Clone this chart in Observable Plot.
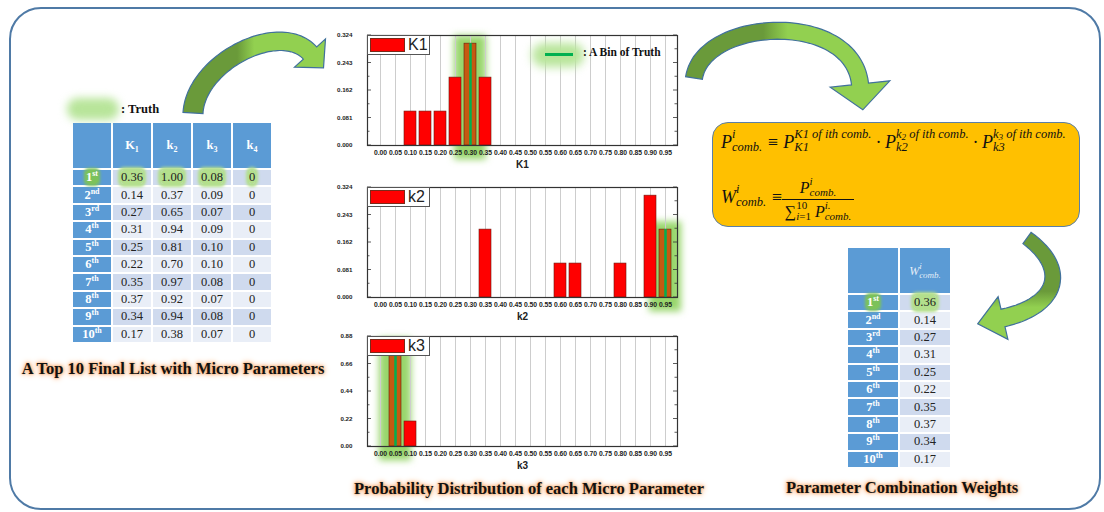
<!DOCTYPE html>
<html><head><meta charset="utf-8">
<script src="https://cdn.jsdelivr.net/npm/d3@7"></script>
<script src="https://cdn.jsdelivr.net/npm/@observablehq/plot@0.6"></script>
<style>
body{margin:0;width:1104px;height:512px;position:relative;overflow:hidden;background:#fff;font-family:"Liberation Serif",serif;}
#frame{position:absolute;left:9px;top:7px;width:1088px;height:499px;border:2.5px solid #4f7aa6;border-radius:32px;}
.abs{position:absolute}
table.t{position:absolute;border-collapse:separate;border-spacing:2px;table-layout:fixed;font-family:"Liberation Serif",serif;font-size:12.5px;color:#222;}
table.t td,table.t th{padding:0;text-align:center;height:15.4px;line-height:15px;overflow:visible;white-space:nowrap}
table.t th{height:45px;background:#5b9bd5;color:#fff;font-weight:bold;font-size:12.5px}
table.t td.rk{background:#5b9bd5;color:#fff;font-weight:bold}
table.t tr.odd td.v{background:#cfdaee}
table.t tr.even td.v{background:#e9eef7}
table.t sup{font-size:8px;line-height:0;vertical-align:5px}
table.t sub{font-size:8px;line-height:0;vertical-align:-3px}
.hl{background:#b3df8c;box-shadow:0 0 3px 3px #b3df8c;border-radius:3px}
.hlr{background:#7cc25a;box-shadow:0 0 3px 2px #7cc25a;border-radius:3px}
.gt{position:absolute;font-weight:bold;font-size:16.5px;color:#111;white-space:nowrap;transform:translate(-50%,-50%);
  text-shadow:0 0 2px #f6a463,0 0 4px #f6a463,0 0 7px #f8b888;}
.leg{position:absolute;width:63px;height:20px;background:#fff;border:1px solid #555;box-sizing:border-box;z-index:5}
.sw{position:absolute;left:2px;top:2px;width:35px;height:14px;background:#ff0000;border:1px solid #7a2a1a;box-sizing:border-box}
.lt{position:absolute;left:40px;top:0px;font:16px "Liberation Sans",Arial,sans-serif;color:#222;line-height:18px}
#fbox{position:absolute;left:712px;top:122px;width:366px;height:103px;background:#ffc000;border:1.5px solid #5a7fa8;border-radius:16px}
.f{position:absolute;font-family:"Liberation Serif",serif;font-style:italic;font-size:18px;line-height:26px;color:#111;white-space:nowrap}
.ss{display:inline-block;vertical-align:-3px;font-size:12.5px;line-height:13px;text-align:left}
.ss>span{display:block}
.ss sub{font-size:9px;vertical-align:-2px;line-height:0}
.frac{position:absolute;font-family:"Liberation Serif",serif;font-style:italic;color:#111;white-space:nowrap;text-align:center}
.frac .num{font-size:16px;line-height:19px;border-bottom:1px solid #111;padding-bottom:1px}
.frac .den{font-size:16px;line-height:22px}
.frac .ss{font-size:11px;line-height:11px}
.chart{position:absolute;left:330px;width:355px;height:150px}
</style></head>
<body>
<div id="frame"></div>

<div id="c0" class="chart" style="top:30px"></div>
<div id="c1" class="chart" style="top:182px"></div>
<div id="c2" class="chart" style="top:331px"></div>

<!-- truth legend near table -->
<div class="abs" style="left:67px;top:98px;width:52px;height:22px;background:#b8e59a;border-radius:11px;filter:blur(4px)"></div>
<div class="abs" style="left:121px;top:102px;font-weight:bold;font-size:12.5px;color:#111">: Truth</div>

<!-- bin of truth legend -->
<div class="abs" style="left:532px;top:43px;width:52px;height:24px;background:#b8e59a;border-radius:12px;filter:blur(5px)"></div>
<div class="abs" style="left:545px;top:53px;width:28px;height:3px;background:#00b050"></div>
<div class="abs" style="left:583px;top:46px;font-weight:bold;font-size:11.5px;color:#111">: A Bin of Truth</div>

<table class="t" id="tLeft" style="left:71px;top:121px"></table>
<table class="t" id="tRight" style="left:846px;top:246px"></table>

<div id="fbox"></div>
<div class="f" style="left:721px;top:128px">P<span class="ss"><span>i</span><span>comb.</span></span> ≡ P<span class="ss"><span>K1 of ith comb.</span><span>K1</span></span> · P<span class="ss"><span>k<sub>2</sub> of ith comb.</span><span>k2</span></span> · P<span class="ss"><span>k<sub>3</sub> of ith comb.</span><span>k3</span></span></div>
<div class="f" style="left:721px;top:183px">W<span class="ss"><span>i</span><span>comb.</span></span> ≡</div>
<div class="frac" style="left:782px;top:176px;width:72px">
  <div class="num">P<span class="ss"><span>i</span><span>comb.</span></span></div>
  <div class="den"><span style="font-style:normal">∑</span><span class="ss" style="font-style:normal"><span>10</span><span><i>i</i>=1</span></span> P<span class="ss"><span>i.</span><span>comb.</span></span></div>
</div>

<div class="gt" style="left:173px;top:369px">A Top 10 Final List with Micro Parameters</div>
<div class="gt" style="left:529px;top:489px">Probability Distribution of each Micro Parameter</div>
<div class="gt" style="left:902px;top:488px">Parameter Combination Weights</div>

<svg id="arrows" width="1104" height="512" style="position:absolute;left:0;top:0;pointer-events:none;z-index:3"></svg>

<script>
// ---------- data ----------
const binLabels = ["0.00","0.05","0.10","0.15","0.20","0.25","0.30","0.35","0.40","0.45",
                   "0.50","0.55","0.60","0.65","0.70","0.75","0.80","0.85","0.90","0.95"];
const paramNames = ["K1","k2","k3"];
const k1Probs = [0,0,0.1,0.1,0.1,0.2,0.3,0.2,0,0,0,0,0,0,0,0,0,0,0,0];
const k2Probs = [0,0,0,0,0,0,0,0.2,0,0,0,0,0.1,0.1,0,0,0.1,0,0.3,0.2];
const k3Probs = [0,0.8,0.2,0,0,0,0,0,0,0,0,0,0,0,0,0,0,0,0,0];
const truthBins = ["0.30","0.95","0.05"];
const yTicksK = [0,0.081,0.162,0.243,0.324];
const yTicksK3 = [0,0.22,0.44,0.66,0.88];

const rankNums = ["1","2","3","4","5","6","7","8","9","10"];
const rankSuffix = ["st","nd","rd","th","th","th","th","th","th","th"];
const colK1 = [0.36,0.14,0.27,0.31,0.25,0.22,0.35,0.37,0.34,0.17];
const colK2 = [1.00,0.37,0.65,0.94,0.81,0.70,0.97,0.92,0.94,0.38];
const colK3 = [0.08,0.09,0.07,0.09,0.10,0.10,0.08,0.07,0.08,0.07];
const colK4 = [0,0,0,0,0,0,0,0,0,0];
const weights = [0.36,0.14,0.27,0.31,0.25,0.22,0.35,0.37,0.34,0.17];

// ---------- histograms ----------
const W = 355, H = 150, ML = 37, MR = 8, MT = 5, MB = 35;
function drawHist(id, name, probs, truth, yTicks, fmt) {
  const yMax = yTicks[yTicks.length - 1];
  const rows = binLabels.map((b, i) => ({bin: b, p: probs[i]})).filter(d => d.p > 0);
  const truthRow = rows.filter(d => d.bin === truth);
  const other = rows.filter(d => d.bin !== truth);
  const chart = Plot.plot({
    width: W, height: H, marginLeft: ML, marginRight: MR, marginTop: MT, marginBottom: MB,
    style: {background: "transparent", overflow: "visible", fontFamily: "'Liberation Sans', Arial, sans-serif", color: "#222"},
    x: {type: "band", domain: binLabels, padding: 0.2},
    y: {domain: [0, yMax]},
    marks: [
      Plot.barY(truthRow, {x: "bin", y1: d => -0.13 * yMax, y2: d => d.p + 0.07 * yMax, fill: "#98d66c", insetLeft: -10, insetRight: -10}),
      Plot.ruleX(binLabels, {stroke: "#cdcdcd", strokeWidth: 1}),
      Plot.barY(other, {x: "bin", y: "p", fill: "#ff0000", stroke: "#6a1a10", strokeWidth: 0.6}),
      Plot.barY(truthRow, {x: "bin", y: "p", fill: "#c55a11", stroke: "#6a1a10", strokeWidth: 0.6}),
      Plot.ruleX(truthRow, {x: "bin", y1: 0, y2: "p", stroke: "#00b050", strokeWidth: 2.5}),
      Plot.axisX({tickSize: 0, tickPadding: 5, fontSize: 6.8, fontWeight: "bold", label: null}),
      Plot.axisY({ticks: yTicks, tickFormat: fmt, tickSize: 0, tickPadding: 15, fontSize: 6.2, fontWeight: "bold", label: null}),
      Plot.text([name], {text: d => d, frameAnchor: "bottom", dy: 22, fontSize: 10, fontWeight: "bold", fill: "#222"}),
      Plot.frame({stroke: "#333", strokeWidth: 1.2})
    ]
  });
  const sel = d3.select(chart);
  const fid = "blur-" + id;
  const flt = sel.insert("defs", ":first-child").append("filter").attr("id", fid)
    .attr("x", "-80%").attr("y", "-30%").attr("width", "260%").attr("height", "160%");
  flt.append("feGaussianBlur").attr("stdDeviation", 3.5);
  // the first bar group in the SVG is the glow column behind the truth bin
  const barGroups = sel.selectAll('g[aria-label="bar"]').nodes();
  if (barGroups.length) d3.select(barGroups[0]).attr("filter", `url(#${fid})`);
  // inward ticks on left/right frame edges, using the plot's y scale
  const ys = chart.scale("y");
  const g = sel.append("g").attr("stroke", "#333").attr("stroke-width", 0.8);
  yTicks.forEach((v, j) => {
    const y = ys.apply(v);
    g.append("line").attr("x1", ML).attr("x2", ML + 4).attr("y1", y).attr("y2", y);
    g.append("line").attr("x1", W - MR - 4).attr("x2", W - MR).attr("y1", y).attr("y2", y);
    if (j < yTicks.length - 1) {
      const ym = ys.apply((v + yTicks[j + 1]) / 2);
      g.append("line").attr("x1", ML).attr("x2", ML + 2.5).attr("y1", ym).attr("y2", ym);
      g.append("line").attr("x1", W - MR - 2.5).attr("x2", W - MR).attr("y1", ym).attr("y2", ym);
    }
  });
  const el = document.getElementById(id);
  el.appendChild(chart);
  const top = parseFloat(el.style.top);
  const leg = document.createElement("div");
  leg.className = "leg";
  leg.style.left = (330 + ML) + "px";
  leg.style.top = (top + MT) + "px";
  leg.innerHTML = `<span class="sw"></span><span class="lt">${name}</span>`;
  document.body.appendChild(leg);
}
drawHist("c0", paramNames[0], k1Probs, truthBins[0], yTicksK, d3.format(".3f"));
drawHist("c1", paramNames[1], k2Probs, truthBins[1], yTicksK, d3.format(".3f"));
drawHist("c2", paramNames[2], k3Probs, truthBins[2], yTicksK3, d3.format(".2f"));

// ---------- tables ----------
function rankCell(i) {
  const inner = `${rankNums[i]}<sup>${rankSuffix[i]}</sup>`;
  return i === 0 ? `<span class="hlr">${inner}</span>` : inner;
}
function valCell(v, i, f) {
  const s = f(v);
  return i === 0 ? `<span class="hl">${s}</span>` : s;
}
(function () {
  const t = document.getElementById("tLeft");
  const cols = [colK1, colK2, colK3, colK4];
  const fmts = [d3.format(".2f"), d3.format(".2f"), d3.format(".2f"), d3.format("d")];
  let html = `<colgroup>${'<col style="width:38px">'.repeat(5)}</colgroup>`;
  html += `<tr><th></th><th>K<sub>1</sub></th><th>k<sub>2</sub></th><th>k<sub>3</sub></th><th>k<sub>4</sub></th></tr>`;
  rankNums.forEach((r, i) => {
    html += `<tr class="${i % 2 === 0 ? "odd" : "even"}"><td class="rk">${rankCell(i)}</td>` +
      cols.map((c, j) => `<td class="v">${valCell(c[i], i, fmts[j])}</td>`).join("") + `</tr>`;
  });
  t.innerHTML = html;
  const tr = document.getElementById("tRight");
  let h2 = `<colgroup><col style="width:50px"><col style="width:50px"></colgroup>`;
  h2 += `<tr><th></th><th style="font-weight:normal;font-style:italic;color:rgba(255,255,255,0.85);font-size:12px">W<span class="ss" style="font-size:9px;line-height:9px"><span>i</span><span>comb.</span></span></th></tr>`;
  rankNums.forEach((r, i) => {
    h2 += `<tr class="${i % 2 === 0 ? "odd" : "even"}"><td class="rk">${rankCell(i)}</td><td class="v">${valCell(weights[i], i, d3.format(".2f"))}</td></tr>`;
  });
  tr.innerHTML = h2;
})();

// ---------- curved arrows (decoration) ----------
function arrowPath(p0, p1, p2, p3, w0, w1, hl, hw) {
  const N = 60, L = [], R = [];
  let ux = 0, uy = 0;
  for (let i = 0; i <= N; i++) {
    const t = i / N, m = 1 - t;
    const x = m*m*m*p0[0] + 3*m*m*t*p1[0] + 3*m*t*t*p2[0] + t*t*t*p3[0];
    const y = m*m*m*p0[1] + 3*m*m*t*p1[1] + 3*m*t*t*p2[1] + t*t*t*p3[1];
    const dx = 3*m*m*(p1[0]-p0[0]) + 6*m*t*(p2[0]-p1[0]) + 3*t*t*(p3[0]-p2[0]);
    const dy = 3*m*m*(p1[1]-p0[1]) + 6*m*t*(p2[1]-p1[1]) + 3*t*t*(p3[1]-p2[1]);
    const len = Math.hypot(dx, dy);
    const nx = -dy / len, ny = dx / len, w = (w0 + (w1 - w0) * t) / 2;
    L.push([x + nx * w, y + ny * w]); R.push([x - nx * w, y - ny * w]);
    ux = dx / len; uy = dy / len;
  }
  const nx = -uy, ny = ux;
  const A = [p3[0] + nx * hw, p3[1] + ny * hw], T = [p3[0] + ux * hl, p3[1] + uy * hl], B = [p3[0] - nx * hw, p3[1] - ny * hw];
  const pts = [...L, A, T, B, ...R.reverse()];
  return "M" + pts.map(p => p[0].toFixed(1) + "," + p[1].toFixed(1)).join("L") + "Z";
}
const svg = d3.select("#arrows");
const defs = svg.append("defs");
function grad(id, x1, y1, x2, y2, a, b) {
  const g = defs.append("linearGradient").attr("id", id).attr("x1", x1).attr("y1", y1).attr("x2", x2).attr("y2", y2);
  g.append("stop").attr("offset", a).attr("stop-color", "#6a9a3a");
  g.append("stop").attr("offset", b).attr("stop-color", "#92d050");
}
grad("g1", 0, 0, 1, 0, 0.38, 0.5);
grad("g2", 0, 0, 1, 0, 0.38, 0.5);
grad("g3", 0, 0, 0, 1, 0.55, 0.7);
const arrows = [
  {d: arrowPath([193,113],[196,62],[280,20],[310,53], 20, 18, 20, 21), f: "url(#g1)"},
  {d: arrowPath([694,78],[703,18],[852,10],[860,84], 17, 17, 26, 30), f: "url(#g2)"},
  {d: arrowPath([1027,238],[1068,268],[1060,305],[1003,318], 14, 18, 26, 22), f: "url(#g3)"}
];
svg.selectAll("path.arrow").data(arrows).join("path").attr("class", "arrow")
  .attr("d", d => d.d).attr("fill", d => d.f).attr("stroke", "#41719c").attr("stroke-width", 1.2);
</script>
</body></html>
